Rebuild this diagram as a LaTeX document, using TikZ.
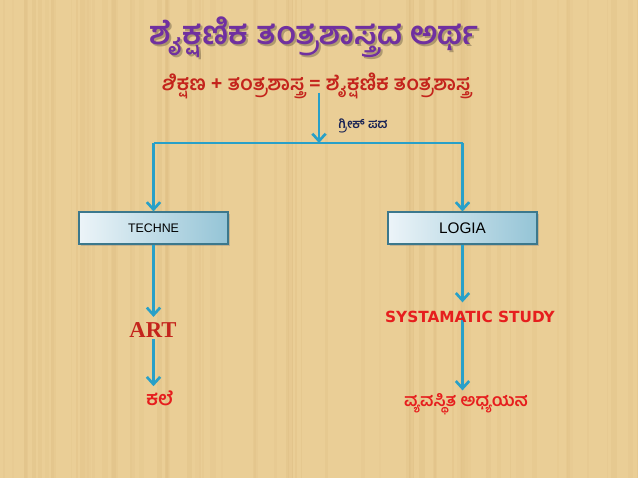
\documentclass[tikz,border=0pt]{standalone}
\usepackage{fontspec}
\newfontfamily\kan[Script=Kannada]{Hind Mysuru}
\newfontfamily\arialf{Liberation Sans}
\newfontfamily\tahf{DejaVu Sans}
\newfontfamily\timesf{Liberation Serif}
\usetikzlibrary{arrows.meta,shadows}
\definecolor{bgc}{RGB}{234,206,150}
\definecolor{streak}{RGB}{215,180,120}
\definecolor{titlec}{RGB}{112,48,160}
\definecolor{redc}{RGB}{196,36,28}
\definecolor{brightred}{RGB}{230,30,30}
\definecolor{navyc}{RGB}{25,35,85}
\definecolor{arrc}{RGB}{40,160,200}
\definecolor{boxl}{RGB}{236,244,248}
\definecolor{boxr}{RGB}{148,196,214}
\definecolor{boxd}{RGB}{60,120,140}
\tikzset{
  conn/.style={draw=arrc, line width=2.2pt},
  arr/.style={conn, -{Straight Barb[length=5.5pt,width=10pt,line width=2pt]}},
  boxn/.style={draw=boxd, line width=0.8pt, left color=boxl, right color=boxr,
     minimum width=111.75pt, minimum height=24pt, inner sep=0pt,
     drop shadow={shadow xshift=1.5pt, shadow yshift=-1.5pt, opacity=0.35}},
  txt/.style={inner sep=1pt}
}
\begin{document}
\begin{tikzpicture}[x=0.75pt,y=-0.75pt]
\fill[bgc] (0,0) rectangle (638,478);
\useasboundingbox (0,0) rectangle (638,478);
% faint parchment streaks
\pgfmathsetseed{7}
\foreach \i in {1,...,70}{
  \pgfmathsetmacro{\xx}{rnd*638}
  \pgfmathsetmacro{\ww}{1+rnd*5}
  \pgfmathsetmacro{\oo}{0.08+rnd*0.15}
  \fill[streak, opacity=\oo] (\xx,0) rectangle ++(\ww,478);
}
% title with soft shadow
\node[txt, text=black, opacity=0.25] at (316,39) {\kan\bfseries\fontsize{24}{28}\selectfont ಶೈಕ್ಷಣಿಕ ತಂತ್ರಶಾಸ್ತ್ರದ ಅರ್ಥ};
\node[txt, text=titlec] (title) at (314,37) {\kan\bfseries\fontsize{24}{28}\selectfont ಶೈಕ್ಷಣಿಕ ತಂತ್ರಶಾಸ್ತ್ರದ ಅರ್ಥ};
\node[txt, text=redc] (eq) at (316,86) {\kan\bfseries\fontsize{15.2}{19}\selectfont ಶಿಕ್ಷಣ + ತಂತ್ರಶಾಸ್ತ್ರ = ಶೈಕ್ಷಣಿಕ ತಂತ್ರಶಾಸ್ತ್ರ};
\node[txt, text=navyc] (greek) at (363,126) {\kan\bfseries\fontsize{9.5}{12}\selectfont ಗ್ರೀಕ್ ಪದ};
\coordinate (split) at (319,143);
\node[boxn] (techne) at (153.5,228) {\arialf\fontsize{9.3}{11}\selectfont TECHNE};
\node[boxn] (logia) at (462.5,228) {\arialf\fontsize{11.5}{13}\selectfont LOGIA};
% connectors (drawn before the label texts)
\node[txt, text=redc] (art) at (153,330) {\timesf\bfseries\fontsize{17}{20}\selectfont ART};
\node[txt, text=brightred] (kale) at (160,398) {\kan\bfseries\fontsize{14.5}{17}\selectfont ಕಲೆ};
\node[txt, text=brightred] (vyav) at (466,404) {\kan\bfseries\fontsize{13}{16}\selectfont ವ್ಯವಸ್ಥಿತ ಅಧ್ಯಯನ};
\coordinate (sysc) at (470,317);
\draw[arr] ([yshift=6pt]split |- eq.south) -- (split);
\draw[conn] (techne.north |- split) -- (logia.north |- split);
\draw[arr] (techne.north |- split) -- (techne.north);
\draw[arr] (logia.north |- split) -- (logia.north);
\draw[arr] (techne.south) -- ([yshift=3pt]art.north -| techne.south);
\draw[arr] (art.south -| techne.south) -- ([yshift=2pt]kale.north -| techne.south);
\draw[arr] (logia.south) -- ([yshift=11pt]sysc -| logia.south);
\draw[arr] (sysc -| logia.south) -- ([yshift=1pt]vyav.north -| logia.south);
\node[txt, text=brightred] (sys) at (sysc) {\tahf\bfseries\fontsize{11.5}{14}\selectfont SYSTAMATIC STUDY};
\end{tikzpicture}
\end{document}
